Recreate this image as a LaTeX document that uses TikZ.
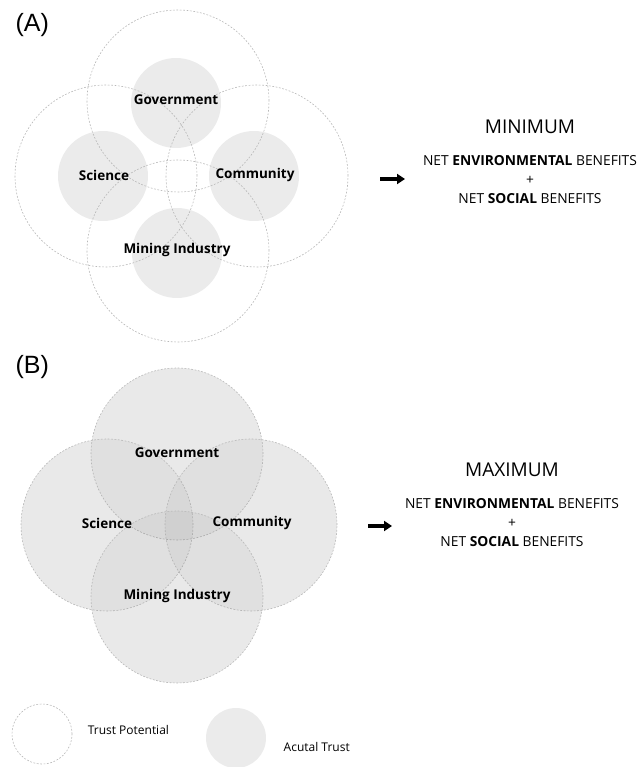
\documentclass[tikz,border=0pt]{standalone}
\usepackage{fontspec}
\setmainfont{Open Sans}
\newfontfamily\panelfont{Liberation Sans}
\usetikzlibrary{positioning,arrows.meta,backgrounds}

\begin{document}
\begin{tikzpicture}[x=1pt,y=-1pt,
        potential/.style={circle,draw=black!28,dash pattern=on 1.8pt off 1.6pt,
            line width=.6pt,minimum size=182pt,inner sep=0pt},
        shared/.style={potential,minimum size=172pt,fill=black,fill opacity=.034},
        actual/.style={circle,fill=black!8,minimum size=90pt,inner sep=0pt},
        party/.style={font=\fontsize{13.5}{16}\selectfont\bfseries},
        panel/.style={font=\fontsize{25}{28}\selectfont\panelfont,anchor=west},
        outcome/.style={font=\fontsize{19}{22}\selectfont},
        benefit/.style={align=center,font=\fontsize{13.8}{19}\selectfont},
        legend/.style={font=\fontsize{12}{14}\selectfont,anchor=west},
        implies/.style={-{Triangle[length=8pt,width=10pt]},line width=3.5pt}]
    \useasboundingbox (0,0) rectangle (643,767);

    % (A) trust potential only partly used
    \node (labA) [panel] at (12,25) {(A)};
    \node (govA) [actual] at (176,103) {};
    \node (sciA) [actual] at (103,176) {};
    \node (comA) [actual] at (254,176) {};
    \node (minA) [actual] at (177,253) {};
    \node (govPA) [potential] at (178,101) {};
    \node (sciPA) [potential] at (106,176) {};
    \node (comPA) [potential] at (257,176) {};
    \node (minPA) [potential] at (178,251) {};
    \node [party] at (176,100) {Government};
    \node [party] at (104,175) {Science};
    \node [party] at (255,175) {Community};
    \node [party] at (177,250) {Mining Industry};

    \node (resA) [outcome] at (530,127) {MINIMUM};
    \node (benA) [benefit,below=15pt of resA] {NET \textbf{ENVIRONMENTAL} BENEFITS\\+\\NET \textbf{SOCIAL} BENEFITS};
    \coordinate (arrA) at (380,179);
    \coordinate (endA) at ([xshift=25pt]arrA);
    \draw [implies] (arrA) -- (endA);

    % (B) trust potential fully used
    \node (labB) [panel] at (12,367) {(B)};
    \node (govB) [shared] at (177,454) {};
    \node (sciB) [shared] at (107,525) {};
    \node (comB) [shared] at (251,525) {};
    \node (minB) [shared] at (177,597) {};
    \begin{scope}[on background layer]
        \foreach \c in {govB,sciB,comB,minB}
            \fill [black!5] (\c) circle (86pt);
    \end{scope}
    \node [party] at (177,453) {Government};
    \node [party] at (107,523) {Science};
    \node [party] at (252,523) {Community};
    \node [party] at (177,596) {Mining Industry};

    \node (resB) [outcome] at (512,470) {MAXIMUM};
    \node (benB) [benefit,below=15pt of resB] {NET \textbf{ENVIRONMENTAL} BENEFITS\\+\\NET \textbf{SOCIAL} BENEFITS};
    \coordinate (arrB) at (368,526);
    \coordinate (endB) at ([xshift=24pt]arrB);
    \draw [implies] (arrB) -- (endB);

    % legend
    \node (keyP) [potential,minimum size=60pt] at (42,734) {};
    \node [legend,right=12pt of keyP,yshift=4pt] {Trust Potential};
    \node (keyA) [actual,minimum size=60pt] at (236,738) {};
    \node [legend,right=14pt of keyA,yshift=-9pt] {Acutal Trust};
\end{tikzpicture}
\end{document}
